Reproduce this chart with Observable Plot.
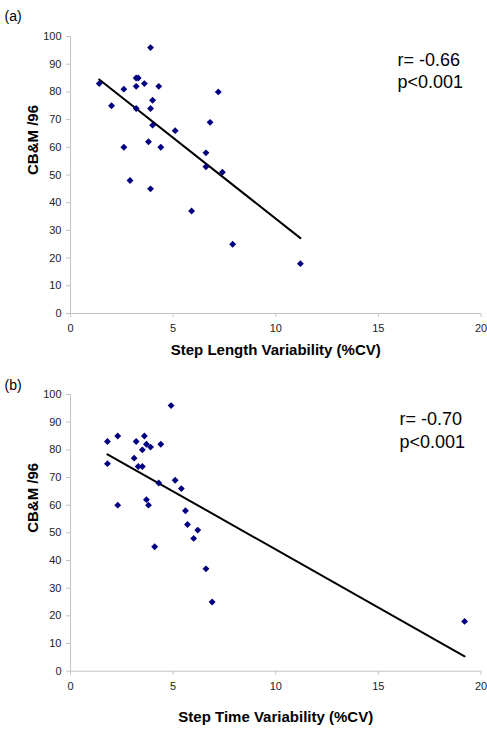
<!DOCTYPE html>
<html>
<head>
<meta charset="utf-8">
<script src="https://cdn.jsdelivr.net/npm/d3@7"></script>
<script src="https://cdn.jsdelivr.net/npm/@observablehq/plot@0.6"></script>
<style>
  html, body { margin: 0; padding: 0; background: #fff; }
  #chart svg { display: block; }
</style>
</head>
<body>
<div id="chart"></div>
<script>
// Panel (a): Step Length Variability vs CB&M /96
const stepLengthCV = [1.4, 2.0, 2.6, 2.6, 2.9, 3.2, 3.2, 3.3, 3.2, 3.6, 3.9, 4.0, 3.9, 4.0, 3.8, 3.9, 4.3, 4.4, 5.1, 5.9, 6.6, 6.6, 6.8, 7.2, 7.4, 7.9, 11.2];
const cbmA         = [83, 75, 60, 81, 48, 74, 85, 85, 82, 83, 96, 77, 74, 68, 62, 45, 82, 60, 66, 37, 58, 53, 69, 80, 51, 25, 18];
const fitAX = [1.4, 11.2];
const fitAY = [84.5, 27.2];
const statsA = ["r= -0.66", "p<0.001"];

// Panel (b): Step Time Variability vs CB&M /96
const stepTimeCV = [1.8, 1.8, 2.3, 2.3, 3.2, 3.1, 3.5, 3.3, 3.5, 3.6, 3.7, 3.9, 3.7, 3.8, 4.1, 4.3, 4.4, 4.9, 5.1, 5.4, 5.6, 5.7, 6.0, 6.2, 6.6, 6.9, 19.2];
const cbmB       = [83, 75, 85, 60, 83, 77, 80, 74, 74, 85, 82, 81, 62, 60, 45, 68, 82, 96, 69, 66, 58, 53, 48, 51, 37, 25, 18];
const fitBX = [1.8, 19.2];
const fitBY = [78.4, 5.4];
const statsB = ["r= -0.70", "p<0.001"];

const xTicks = [0, 5, 10, 15, 20];
const yTicks = [0, 10, 20, 30, 40, 50, 60, 70, 80, 90, 100];
const yLabel = "CB&M /96";

const FONT = "'Liberation Sans', Arial, Helvetica, sans-serif";
const AXIS_GREY = "#c4c4c4";

function panel(cfg) {
  const pts = cfg.xs.map((x, i) => ({x, y: cfg.ys[i]}));
  const fit = cfg.fx.map((x, i) => ({x, y: cfg.fy[i]}));
  return Plot.plot({
    width: 487,
    height: cfg.height,
    marginTop: cfg.mTop,
    marginBottom: cfg.mBottom,
    marginLeft: 70,
    marginRight: 6.5,
    style: {fontFamily: FONT, background: "#fff", color: "#000", overflow: "visible"},
    x: {domain: [0, 20]},
    y: {domain: [0, 100]},
    marks: [
      Plot.ruleY([0], {stroke: AXIS_GREY}),
      Plot.ruleX([0], {stroke: AXIS_GREY}),
      Plot.axisX(xTicks, {tickSize: 4, tickPadding: 7, stroke: AXIS_GREY, fill: "#222", fontSize: 11, label: null}),
      Plot.axisY(yTicks, {tickSize: 4, tickPadding: 5, stroke: AXIS_GREY, fill: "#222", fontSize: 11, label: null}),
      Plot.line(fit, {x: "x", y: "y", stroke: "#000", strokeWidth: 2}),
      Plot.dot(pts, {x: "x", y: "y", symbol: "diamond2", r: 3.1, fill: "#000080", stroke: "none"}),
      Plot.text([cfg.tag], {frameAnchor: "top-left", dx: -66, dy: cfg.tagDy, textAnchor: "start", lineAnchor: "bottom", fontSize: 14, fill: "#000"}),
      Plot.text([cfg.stats[0]], {frameAnchor: "top-left", dx: cfg.statsDx, dy: cfg.statsDy[0], textAnchor: "start", lineAnchor: "bottom", fontSize: 18, fill: "#000"}),
      Plot.text([cfg.stats[1]], {frameAnchor: "top-left", dx: cfg.statsDx, dy: cfg.statsDy[1], textAnchor: "start", lineAnchor: "bottom", fontSize: 18, fill: "#000"}),
      Plot.text([cfg.xTitle], {frameAnchor: "bottom", dy: cfg.titleDy, lineAnchor: "bottom", fontSize: 15, fontWeight: "bold", fill: "#000"}),
      Plot.text([yLabel], {frameAnchor: "left", dx: -37, dy: cfg.yLabelDy, rotate: -90, lineAnchor: "middle", fontSize: 15, fontWeight: "bold", fill: "#000"})
    ]
  });
}

const chart = document.getElementById("chart");
chart.appendChild(panel({
  tag: "(a)", xs: stepLengthCV, ys: cbmA, fx: fitAX, fy: fitAY, stats: statsA,
  xTitle: "Step Length Variability (%CV)",
  height: 364, mTop: 36, mBottom: 51,
  tagDy: -16, statsDx: 327, statsDy: [29, 51], titleDy: 41, yLabelDy: 0
}));
chart.appendChild(panel({
  tag: "(b)", xs: stepTimeCV, ys: cbmB, fx: fitBX, fy: fitBY, stats: statsB,
  xTitle: "Step Time Variability (%CV)",
  height: 365, mTop: 30, mBottom: 58.3,
  tagDy: -5, statsDx: 329, statsDy: [30, 53], titleDy: 51, yLabelDy: 0
}));
</script>
</body>
</html>
